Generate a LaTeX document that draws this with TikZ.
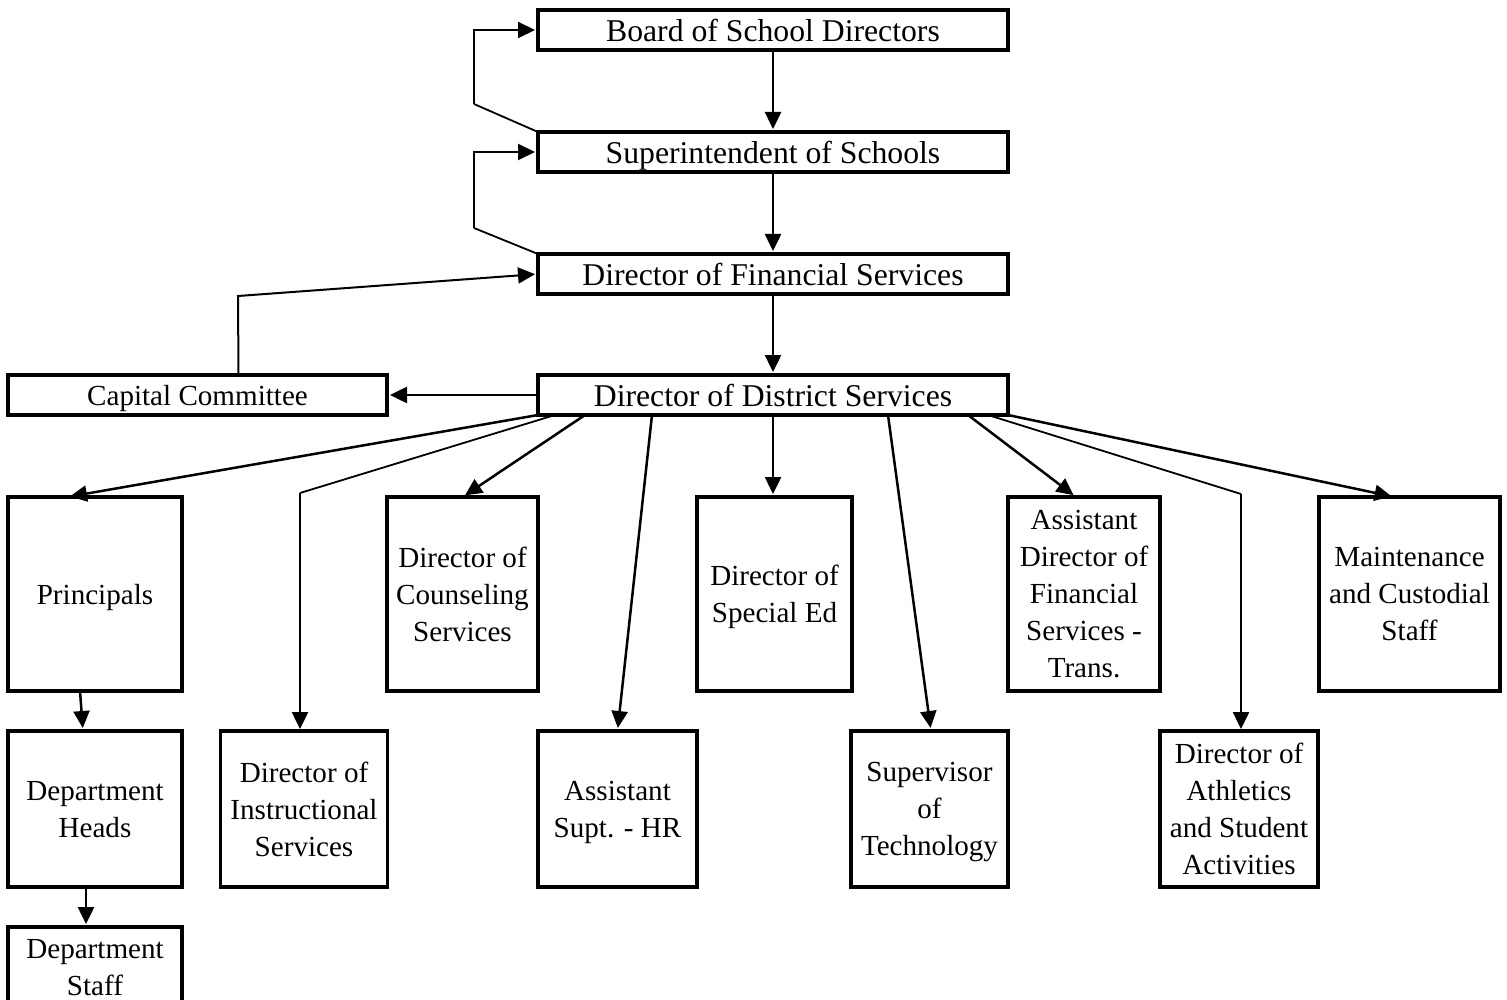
\documentclass[tikz,border=0pt]{standalone}
\usepackage{fontspec}
\setmainfont{Liberation Serif}
\usetikzlibrary{arrows.meta}
\begin{document}
\begin{tikzpicture}[x=1pt,y=-1pt,
  box/.style={draw, line width=3.5pt, inner sep=0pt, outer sep=0pt, align=center,
    text depth=0pt, font=\fontsize{29.1}{37}\selectfont},
  bigbox/.style={box, font=\fontsize{31.7}{38}\selectfont},
  arr/.style={line width=2.5pt, shorten >=3pt, -{Triangle[length=17pt,width=16pt]}},
  thinline/.style={line width=1.8pt},
]
\clip (0,0) rectangle (1507,1000);
\fill[white] (0,0) rectangle (1507,1000);

% upper chain
\node[bigbox, minimum width=470pt, minimum height=40pt] (board) at (773,30) {Board of School Directors};
\node[bigbox, minimum width=470pt, minimum height=40pt] (supt)  at (773,152) {Superintendent of Schools};
\node[bigbox, minimum width=470pt, minimum height=40pt] (fin)   at (773,274) {Director of Financial Services};
\node[bigbox, minimum width=470pt, minimum height=40pt] (dist)  at (773,395) {Director of District Services};
\node[box, minimum width=379pt, minimum height=40pt] (cap) at (197.5,395) {Capital Committee};

% first row under district services
\node[box, minimum width=174pt, minimum height=194pt] (princ) at (95,594) {Principals};
\node[box, minimum width=151pt, minimum height=194pt] (couns) at (462.5,594) {Director of\\Counseling\\Services};
\node[box, minimum width=155pt, minimum height=194pt] (sped)  at (774.5,594) {Director of\\Special Ed};
\node[box, minimum width=152pt, minimum height=194pt] (adf)   at (1084,594) {Assistant\\Director of\\Financial\\Services -\\Trans.};
\node[box, minimum width=181pt, minimum height=194pt] (maint) at (1409.5,594) {Maintenance\\and Custodial\\Staff};

% second row
\node[box, minimum width=174pt, minimum height=156pt] (heads) at (95,809) {Department\\Heads};
\node[box, minimum width=167pt, minimum height=156pt] (instr) at (304,809) {Director of\\Instructional\\Services};
\node[box, minimum width=159pt, minimum height=156pt] (hr)    at (617.5,809) {Assistant\\Supt. - HR};
\node[box, minimum width=157pt, minimum height=156pt] (tech)  at (929.5,809) {Supervisor\\of\\Technology};
\node[box, minimum width=158pt, minimum height=156pt] (ath)   at (1239,809) {Director of\\Athletics\\and Student\\Activities};

% bottom
\node[box, minimum width=174pt, minimum height=80pt] (staff) at (95,967) {Department\\Staff};

% bend points
\coordinate (l1) at (474,104);
\coordinate (l2) at (474,228);
\coordinate (c1) at (238,296);
\coordinate (c2) at (300,493);
\coordinate (c3) at (1241,494);

% main chain
\draw[arr] (board.south) -- (supt.north);
\draw[arr] (supt.south) -- (fin.north);
\draw[arr] (fin.south) -- (dist.north);

% feedback loops
\draw[thinline] (supt.north west) -- (l1);
\draw[arr, line width=2pt] (l1) |- (board.west);
\draw[thinline] (fin.north west) -- (l2);
\draw[arr, line width=2pt] (l2) |- (supt.west);

% capital committee
\draw[arr] (dist.west) -- (cap.east);
\draw[arr, line width=2pt] ([xshift=41pt]cap.north) -- (c1) -- (fin.west);

% fan out of district services
\draw[arr] (dist.south west) -- ([xshift=-28pt]princ.north);
\draw[thinline] ([xshift=17pt]dist.south west) -- (c2);
\draw[arr, shorten >=2pt] (c2) -- (c2 |- instr.north);
\draw[arr] ([xshift=47pt]dist.south west) -- (couns.north);
\draw[arr] ([xshift=114pt]dist.south west) -- (hr.north);
\draw[arr] (dist.south) -- (dist.south |- sped.north);
\draw[arr] ([xshift=115pt]dist.south) -- ([xshift=1.5pt]tech.north);
\draw[arr] ([xshift=-40pt]dist.south east) -- ([xshift=-8pt]adf.north);
\draw[thinline] ([xshift=-20pt]dist.south east) -- (c3);
\draw[arr, shorten >=2pt] (c3) -- (c3 |- ath.north);
\draw[arr] (dist.south east) -- ([xshift=-15pt]maint.north);

% principals chain
\draw[arr] ([xshift=-15pt]princ.south) -- ([xshift=-12pt]heads.north);
\draw[arr] ([xshift=-9pt]heads.south) -- ([xshift=-9pt]staff.north);
\end{tikzpicture}
\end{document}
